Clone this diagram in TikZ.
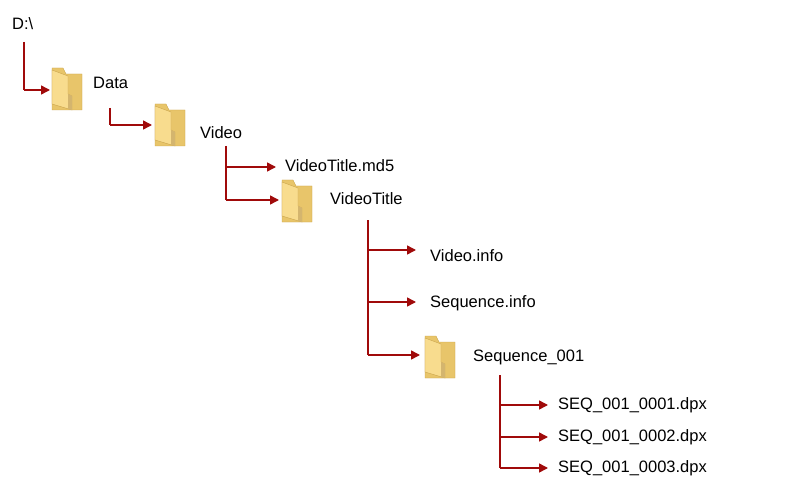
\documentclass[tikz,border=0pt]{standalone}
\usepackage{fontspec}
\setmainfont{Liberation Sans}
\usetikzlibrary{arrows.meta}
\definecolor{lred}{HTML}{A00A0A}
\definecolor{fback}{HTML}{E8C56A}
\definecolor{ffront}{HTML}{F8DC8E}
\definecolor{fedge}{HTML}{C9A34A}
\tikzset{
  conn/.style={lred,line width=1.5pt,-{Triangle[length=9pt,width=9pt]}},
  trunk/.style={lred,line width=1.5pt},
  lbl/.style={anchor=west,inner sep=0pt,font=\fontsize{16.5}{18}\selectfont},
  folder/.pic={
    \fill[fback,draw=fedge,line width=0.4pt] (0,0) -- (0,42) -- (30,42) -- (30,6) -- (14,6) -- (11,0) -- cycle;
    \fill[ffront,draw=fedge,line width=0.4pt] (0,2) -- (16,8) -- (16,26) -- (20,28) -- (20,42) -- (0,36) -- cycle;
    \fill[fedge!80] (16,26) -- (20,28) -- (20,42) -- (16,41) -- cycle;
  }
}
\begin{document}
\begin{tikzpicture}[x=1pt,y=-1pt]
\useasboundingbox[fill=white] (0,0) rectangle (800,497);
\node[lbl] (d) at (12,24) {D:\textbackslash};
\pic at (52,68) {folder};
\node[lbl] (data) at (93,83) {Data};
\draw[trunk] (24,42) -- (24,90);
\draw[conn] (24,90) -- (50,90);
\pic at (155,104) {folder};
\node[lbl] (video) at (200,133) {Video};
\draw[trunk] (110,108) -- (110,125);
\draw[conn] (110,125) -- (152,125);
\node[lbl] (md5) at (285,166) {VideoTitle.md5};
\pic at (282,180) {folder};
\node[lbl] (vt) at (330,199) {VideoTitle};
\draw[trunk] (226,146) -- (226,200);
\draw[conn] (226,167) -- (276,167);
\draw[conn] (226,200) -- (279,200);
\node[lbl] (vinfo) at (430,256) {Video.info};
\node[lbl] (sinfo) at (430,303) {Sequence.info};
\pic at (425,336) {folder};
\node[lbl] (seq) at (473,357) {Sequence\_001};
\draw[trunk] (368,220) -- (368,355);
\draw[conn] (368,250) -- (416,250);
\draw[conn] (368,302) -- (416,302);
\draw[conn] (368,355) -- (420,355);
\node[lbl] (s1) at (558,405) {SEQ\_001\_0001.dpx};
\node[lbl] (s2) at (558,437) {SEQ\_001\_0002.dpx};
\node[lbl] (s3) at (558,468) {SEQ\_001\_0003.dpx};
\draw[trunk] (500,375) -- (500,468);
\draw[conn] (500,405) -- (548,405);
\draw[conn] (500,437) -- (548,437);
\draw[conn] (500,468) -- (548,468);
\end{tikzpicture}
\end{document}
